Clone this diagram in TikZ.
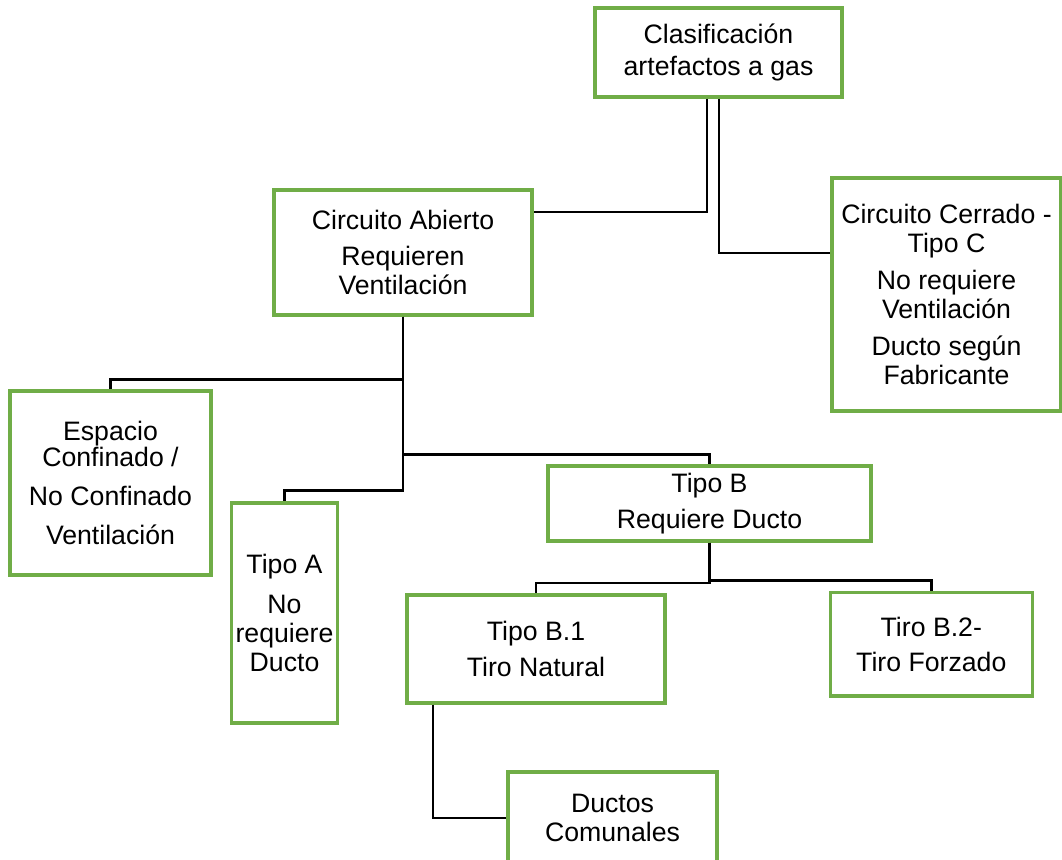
\documentclass[tikz,border=0pt]{standalone}
\usepackage{fontspec}
\setmainfont{Liberation Sans}
\definecolor{boxgreen}{RGB}{112,173,71}

\begin{document}
\begin{tikzpicture}[x=0.75pt,y=-0.75pt,line width=2pt,
		every node/.style={font=\fontsize{20}{21.75}\selectfont}]
		\tikzstyle{BoxStyle}=[draw=boxgreen,line width=2.3pt,align=center,inner sep=1pt]
		\tikzstyle{LinkStyle}=[draw=black,line width=2.1pt]
		\useasboundingbox (0,0) rectangle (1062,859);

		\node at (718.5,52.5) [BoxStyle,minimum width=185.25pt,minimum height=66.75pt] (clasif) {Clasificación\\[2pt]artefactos a gas};
		\node at (403,252.5) [BoxStyle,minimum width=193.5pt,minimum height=93.75pt] (abierto) {Circuito Abierto\\[5pt]Requieren\\Ventilación};
		\node at (946.5,294.5) [BoxStyle,minimum width=171.75pt,minimum height=174.75pt] (cerrado) {Circuito Cerrado -\\Tipo C\\[6pt]No requiere\\Ventilación\\[6pt]Ducto según\\Fabricante};
		\node at (110.5,483) [BoxStyle,minimum width=150.75pt,minimum height=138pt] (espacio) {Espacio\\[-2pt]Confinado /\\[7.5pt]No Confinado\\[7.5pt]Ventilación};
		\node at (284.5,613) [BoxStyle,minimum width=79.5pt,minimum height=165pt] (tipoA) {Tipo A\\[8pt]No\\requiere\\Ducto};
		\node at (709.5,503.5) [BoxStyle,minimum width=242.25pt,minimum height=56.25pt] (tipoB) {Tipo B\\[5pt]Requiere Ducto};
		\node at (536,649) [BoxStyle,minimum width=193.5pt,minimum height=81pt] (tipoBuno) {Tipo B.1\\[5pt]Tiro Natural};
		\node at (931.3,644.3) [BoxStyle,minimum width=151.1pt,minimum height=77.5pt] (tipoBdos) {Tiro B.2-\\[5pt]Tiro Forzado};
		\node at (612.5,818) [BoxStyle,minimum width=156.75pt,minimum height=69pt] (comunales) {Ductos\\Comunales};

		% conectores
		\draw[LinkStyle] ([xshift=-8.6pt]clasif.south) |- ([yshift=30.4pt]abierto.east);
		\draw[LinkStyle] ([xshift=0.4pt]clasif.south) |- ([yshift=31.1pt]cerrado.west);
		\draw[LinkStyle] (abierto.south) |- ([yshift=7.5pt]espacio.north) -- (espacio.north);
		\draw[LinkStyle] (abierto.south) |- ([yshift=8.25pt]tipoA.north) -- (tipoA.north);
		\draw[LinkStyle] (abierto.south) |- ([yshift=7.7pt]tipoB.north) -- (tipoB.north);
		\draw[LinkStyle] (tipoB.south) |- ([yshift=7.9pt]tipoBuno.north) -- (tipoBuno.north);
		\draw[LinkStyle] (tipoB.south) |- ([yshift=8.25pt]tipoBdos.north) -- (tipoBdos.north);
		\draw[LinkStyle] ([xshift=-77.2pt]tipoBuno.south) |- (comunales.west);
	\end{tikzpicture}
\end{document}
